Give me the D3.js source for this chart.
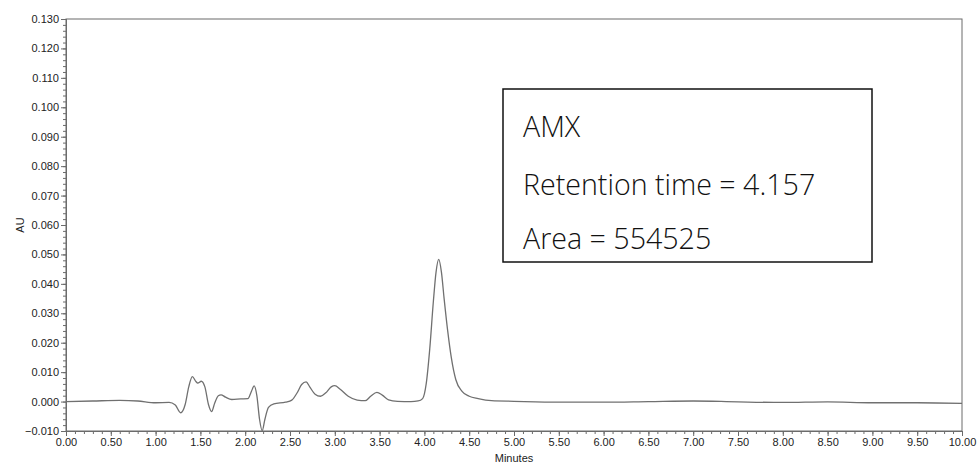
<!DOCTYPE html>
<html>
<head>
<meta charset="utf-8">
<script src="https://cdn.jsdelivr.net/npm/d3@7"></script>
<style>
  body { margin: 0; background: #fff; }
  svg { display: block; }
</style>
</head>
<body>
<script>
// chromatogram trace: time (min) and absorbance (AU)
var times = [0.00, 0.30, 0.60, 0.80, 1.00, 1.15, 1.22, 1.28, 1.33, 1.37, 1.41, 1.45, 1.47, 1.51, 1.55, 1.59, 1.625, 1.66, 1.70, 1.73,
  1.78, 1.85, 1.95, 2.03, 2.07, 2.10, 2.13, 2.16, 2.19, 2.22, 2.26, 2.32, 2.45, 2.52, 2.58, 2.63, 2.68, 2.72, 2.78, 2.84,
  2.90, 2.96, 3.00, 3.06, 3.15, 3.25, 3.34, 3.40, 3.47, 3.53, 3.60, 3.70, 3.85, 3.93, 3.98, 4.02, 4.06, 4.10, 4.13, 4.16,
  4.19, 4.22, 4.26, 4.30, 4.35, 4.42, 4.50, 4.60, 4.75, 5.00, 5.50, 6.00, 6.50, 7.00, 7.50, 8.00, 8.50, 9.00, 9.50, 10.00];
var absorb = [0.0000, 0.0002, 0.0004, 0.0002, -0.0004, -0.0003, -0.0012, -0.0038, -0.0010, 0.0050, 0.0085, 0.0068, 0.0063, 0.0069, 0.0050, -0.0010, -0.0034, -0.0005, 0.0020, 0.0023,
  0.0015, 0.0007, 0.0009, 0.0010, 0.0035, 0.0053, 0.0020, -0.0060, -0.0099, -0.0060, -0.0020, -0.0008, -0.0002, 0.0005, 0.0030, 0.0058, 0.0067, 0.0050, 0.0025, 0.0018,
  0.0030, 0.0050, 0.0054, 0.0042, 0.0018, 0.0005, 0.0003, 0.0018, 0.0031, 0.0022, 0.0006, 0.0001, 0.0000, 0.0002, 0.0010, 0.0060, 0.0180, 0.0340, 0.0440, 0.0483,
  0.0440, 0.0350, 0.0240, 0.0150, 0.0075, 0.0035, 0.0018, 0.0010, 0.0003, 0.0001, -0.0002, -0.0002, 0.0000, 0.0002, -0.0001, -0.0003, -0.0001, -0.0004, -0.0004, -0.0006];

var xTicks = d3.range(0, 10.001, 0.5);
var yTicks = d3.range(-0.010, 0.1301, 0.010);
var labelLines = ["AMX", "Retention time = 4.157", "Area = 554525"];

var width = 978, height = 464;
var margin = {left: 66, right: 16, top: 19, bottom: 33};

var svg = d3.select("body").append("svg")
  .attr("width", width)
  .attr("height", height);

var x = d3.scaleLinear().domain([0, 10]).range([margin.left, width - margin.right]);
var y = d3.scaleLinear().domain([-0.010, 0.130]).range([height - margin.bottom, margin.top]);

var axisColor = "#6b6b6b";

// frame
svg.append("rect")
  .attr("x", x(0)).attr("y", y(0.130))
  .attr("width", x(10) - x(0)).attr("height", y(-0.010) - y(0.130))
  .attr("fill", "none").attr("stroke", axisColor).attr("stroke-width", 1);

// minor ticks
var xMinor = d3.axisBottom(x).tickValues(d3.range(0, 10.001, 0.1)).tickSize(3).tickFormat("");
var yMinor = d3.axisLeft(y).tickValues(d3.range(-0.010, 0.1301, 0.002)).tickSize(3).tickFormat("");
svg.append("g").attr("transform", "translate(0," + y(-0.010) + ")").call(xMinor);
svg.append("g").attr("transform", "translate(" + x(0) + ",0)").call(yMinor);

// major ticks
var xAxis = d3.axisBottom(x).tickValues(xTicks).tickSize(5).tickPadding(2).tickFormat(d3.format(".2f"));
var yAxis = d3.axisLeft(y).tickValues(yTicks).tickSize(5).tickPadding(2).tickFormat(d3.format(".3f"));
svg.append("g").attr("class", "axis").attr("transform", "translate(0," + y(-0.010) + ")").call(xAxis);
svg.append("g").attr("class", "axis").attr("transform", "translate(" + x(0) + ",0)").call(yAxis);

svg.selectAll(".domain").attr("stroke", axisColor);
svg.selectAll(".tick line").attr("stroke", axisColor);
svg.selectAll(".axis text")
  .attr("font-family", "Liberation Sans, Arial, sans-serif")
  .attr("font-size", 11)
  .attr("fill", "#222");

// axis titles
svg.append("text")
  .attr("x", (x(0) + x(10)) / 2).attr("y", 462)
  .attr("text-anchor", "middle")
  .attr("font-family", "Liberation Sans, Arial, sans-serif")
  .attr("font-size", 11).attr("fill", "#222")
  .text("Minutes");
svg.append("text")
  .attr("transform", "translate(24," + ((y(0.130) + y(-0.010)) / 2) + ") rotate(-90)")
  .attr("text-anchor", "middle")
  .attr("font-family", "Liberation Sans, Arial, sans-serif")
  .attr("font-size", 11).attr("fill", "#222")
  .text("AU");

// trace
var pts = times.map(function(t, i) { return [t, absorb[i]]; });
var line = d3.line()
  .x(function(d) { return x(d[0]); })
  .y(function(d) { return y(d[1]); })
  .curve(d3.curveMonotoneX);
svg.append("path")
  .datum(pts)
  .attr("d", line)
  .attr("fill", "none")
  .attr("stroke", "#707070")
  .attr("stroke-width", 1.3);

// annotation box
svg.append("rect")
  .attr("x", 503).attr("y", 89).attr("width", 369).attr("height", 173)
  .attr("fill", "#fff").attr("stroke", "#111").attr("stroke-width", 1.5);
svg.selectAll(".note")
  .data(labelLines)
  .enter().append("text")
  .attr("class", "note")
  .attr("x", 523)
  .attr("y", function(d, i) { return [137, 195, 249][i]; })
  .attr("font-family", "Open Sans, Noto Sans, sans-serif")
  .attr("font-weight", 300)
  .attr("font-size", 28.6)
  .attr("fill", "#111")
  .text(function(d) { return d; });
</script>
</body>
</html>
